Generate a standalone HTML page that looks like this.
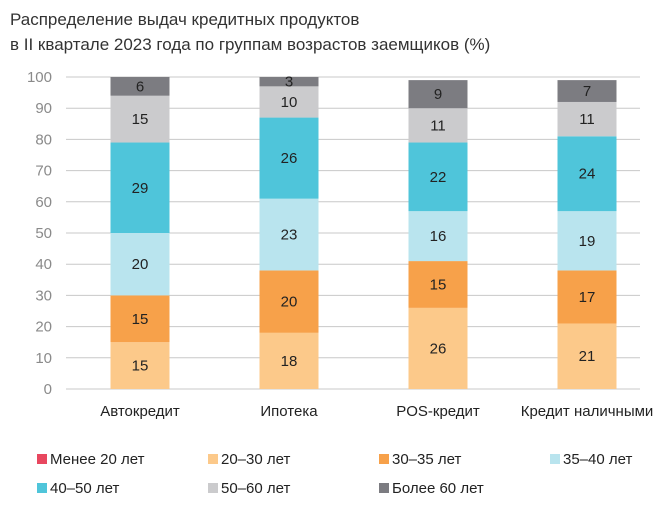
<!DOCTYPE html>
<html><head><meta charset="utf-8">
<style>
body{margin:0;background:#fff;font-family:"Liberation Sans",sans-serif;}
svg text{font-family:"Liberation Sans",sans-serif;}
</style></head>
<body>
<svg id="chart" width="667" height="522" xmlns="http://www.w3.org/2000/svg">
<text x="10" y="25" font-size="17" fill="#333">Распределение выдач кредитных продуктов</text>
<text x="10" y="50" font-size="17" fill="#333">в II квартале 2023 года по группам возрастов заемщиков (%)</text>
<g id="grid"></g><g id="bars"></g><g id="legend"></g>
</svg>
<script>
const categories=["Автокредит","Ипотека","POS-кредит","Кредит наличными"];
const seriesNames=["Менее 20 лет","20–30 лет","30–35 лет","35–40 лет","40–50 лет","50–60 лет","Более 60 лет"];
const s0=[0,0,0,0];
const s1=[15,18,26,21];
const s2=[15,20,15,17];
const s3=[20,23,16,19];
const s4=[29,26,22,24];
const s5=[15,10,11,11];
const s6=[6,3,9,7];
const yTicks=[0,10,20,30,40,50,60,70,80,90,100];
const series=[s0,s1,s2,s3,s4,s5,s6];
const colors=["#e8475f","#fcc98a","#f7a14a","#b9e4ee","#4fc5da","#cbcbcd","#7c7c81"];
const NS="http://www.w3.org/2000/svg";
const y0=389,y100=77,xL=66,xR=640,bw=59;
const y=v=>y0-(y0-y100)*v/100;
const x=i=>140+149*i;
function mk(t,a,p){const e=document.createElementNS(NS,t);for(const k in a)e.setAttribute(k,a[k]);p.appendChild(e);return e;}
const grid=document.getElementById('grid');
yTicks.forEach(t=>{
 const l=mk('line',{x1:xL,x2:xR,y1:y(t),y2:y(t),stroke:'#c8c8c8','stroke-width':1},grid);
 
 
 const tx=mk('text',{x:52,y:y(t)+5,'font-size':15,fill:'#8a8a8a','text-anchor':'end'},grid);
 tx.textContent=t;
 
 
});
const bars=document.getElementById('bars');
categories.forEach((c,i)=>{
 let acc=0;
 series.forEach((s,j)=>{
  const v=s[i];if(!v)return;
  const r=mk('rect',{x:x(i)-bw/2,y:y(acc+v),width:bw,height:y(acc)-y(acc+v),fill:colors[j]},bars);
  
  
  const t=mk('text',{x:x(i),y:(y(acc)+y(acc+v))/2+5,'font-size':15,fill:'#222','text-anchor':'middle'},bars);
  t.textContent=v;
  
  
  acc+=v;
 });
 const l=mk('text',{x:x(i),y:416,'font-size':15,fill:'#222','text-anchor':'middle'},bars);
 l.textContent=c;
 
 
});
const leg=document.getElementById('legend');
seriesNames.forEach((n,j)=>{
 const col=j%4,row=Math.floor(j/4);
 const lx=37+171*col,ly=459+29*row;
 const g=mk('g',{},leg);
 
 
 mk('rect',{x:lx,y:ly-5,width:10,height:10,fill:colors[j]},g);
 const t=mk('text',{x:lx+13,y:ly+5,'font-size':15,fill:'#222'},g);
 t.textContent=n;
});
</script>
</body></html>
